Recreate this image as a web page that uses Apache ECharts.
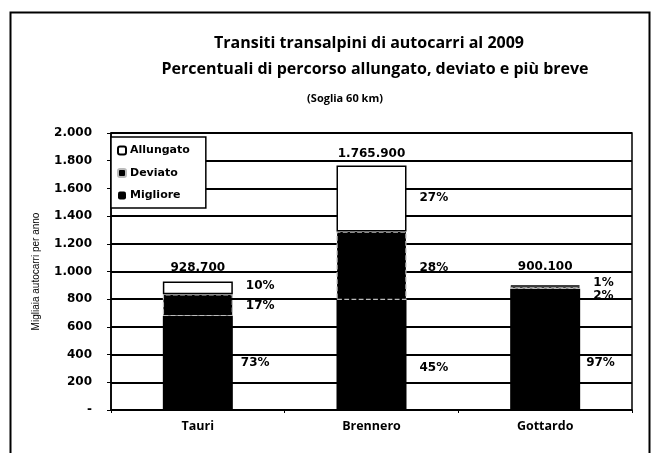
<!DOCTYPE html>
<html><head><meta charset="utf-8">
<script src="https://cdn.jsdelivr.net/npm/echarts@6/dist/echarts.min.js"></script>
<style>html,body{margin:0;padding:0;background:#fff}#c{width:658px;height:453px}</style>
</head><body><div id="c"></div>
<script>
const categories = ['Tauri', 'Brennero', 'Gottardo'];
const totals = [928.7, 1765.9, 900.1];
const totalLabels = ['928.700', '1.765.900', '900.100'];
const pctMigliore = [73, 45, 97];
const pctDeviato = [17, 28, 2];
const pctAllungato = [10, 27, 1];
const yTicks = [0, 200, 400, 600, 800, 1000, 1200, 1400, 1600, 1800, 2000];

const seg = p => totals.map((t, i) => t * p[i] / 100);
const fmt = v => v === 0 ? '-' : String(v).replace(/\B(?=(\d{3})+(?!\d))/g, '.');

// per-item label nudges (style only)
const offMig = [[-5, 0], [0, 13], [-7, 13]];
const offDev = [[0, 1], [0, 2], [0, 8]];
const offAll = [[0, -2], [0, -1], [0, -3]];
const NUMFONT = 'DejaVu Sans';
function mk(name, pcts, off, style) {
  const vals = seg(pcts);
  return {
    name, type: 'bar', stack: 'tot', barWidth: 70,
    itemStyle: style,
    data: vals.map((v, i) => ({
      value: v,
      label: { show: true, position: 'right', distance: 13, offset: off[i],
        formatter: pcts[i] + '%', fontFamily: NUMFONT, fontWeight: 'bold', fontSize: 12, color: '#000' }
    }))
  };
}
const totOff = [[0, -2], [0, 0], [0, -6]];
const chart = echarts.init(document.getElementById('c'), null, { renderer: 'canvas' });
chart.setOption({
  animation: false,
  backgroundColor: '#fff',
  title: [
    { text: 'Transiti transalpini di autocarri al 2009', left: 364, top: 30, textAlign: 'center',
      textStyle: { fontFamily: 'Open Sans', fontWeight: 'bold', fontSize: 16, color: '#000' } },
    { text: 'Percentuali di percorso allungato, deviato e più breve', left: 370, top: 56, textAlign: 'center',
      textStyle: { fontFamily: 'Open Sans', fontWeight: 'bold', fontSize: 16, color: '#000' } },
    { text: '(Soglia 60 km)', left: 340, top: 88, textAlign: 'center',
      textStyle: { fontFamily: 'Open Sans', fontWeight: 'bold', fontSize: 11, color: '#000' } }
  ],
  graphic: [
    { type: 'rect', shape: { x: 10.5, y: 12.5, width: 639, height: 460 }, style: { fill: 'none', stroke: '#000', lineWidth: 2 }, silent: true }
  ],
  legend: {
    orient: 'vertical', left: 111, top: 137, itemWidth: 8, itemHeight: 8, itemGap: 11.5,
    padding: [8, 16, 7, 6], borderColor: '#000', borderWidth: 1.5, backgroundColor: '#fff',
    data: ['Allungato', 'Deviato', 'Migliore'],
    textStyle: { fontFamily: NUMFONT, fontWeight: 'bold', fontSize: 11, color: '#000', padding: [0, 0, 0, -1] }
  },
  grid: { left: 111, right: 26, top: 133, bottom: 43, show: true, borderColor: '#000', borderWidth: 1.5 },
  xAxis: {
    type: 'category', data: categories,
    axisLine: { lineStyle: { color: '#000', width: 1.5 } },
    axisTick: { show: true, length: 3, lineStyle: { color: '#000' } },
    axisLabel: { margin: 10, fontFamily: 'Open Sans', fontWeight: 'bold', fontSize: 12.5, color: '#000' }
  },
  yAxis: {
    type: 'value', min: yTicks[0], max: yTicks[yTicks.length - 1], interval: yTicks[1] - yTicks[0],
    name: 'Migliaia autocarri per anno', nameLocation: 'middle', nameGap: 70, nameRotate: 90,
    nameTextStyle: { fontFamily: 'Liberation Sans', fontSize: 10, color: '#000' },
    axisLine: { show: true, lineStyle: { color: '#000', width: 1.5 } },
    axisTick: { show: true, length: 4, lineStyle: { color: '#000' } },
    axisLabel: { margin: 19, formatter: fmt, fontFamily: NUMFONT, fontWeight: 'bold', fontSize: 12, color: '#000' },
    splitLine: { lineStyle: { color: '#000', width: 1.8 } }
  },
  series: [
    mk('Migliore', pctMigliore, offMig, { color: '#000' }),
    mk('Deviato', pctDeviato, offDev, { color: '#000', borderColor: '#bbb', borderWidth: 1.2, borderType: 'dashed' }),
    mk('Allungato', pctAllungato, offAll, { color: '#fff', borderColor: '#000', borderWidth: 1.5 }),
    {
      name: 'Totale', type: 'bar', barWidth: 70, barGap: '-100%', z: 1,
      itemStyle: { color: 'rgba(0,0,0,0)' },
      data: totals.map((t, i) => ({
        value: t,
        label: { show: true, position: 'top', distance: 6, offset: totOff[i], formatter: totalLabels[i],
          fontFamily: NUMFONT, fontWeight: 'bold', fontSize: 12, color: '#000' }
      }))
    }
  ]
});
</script></body></html>
